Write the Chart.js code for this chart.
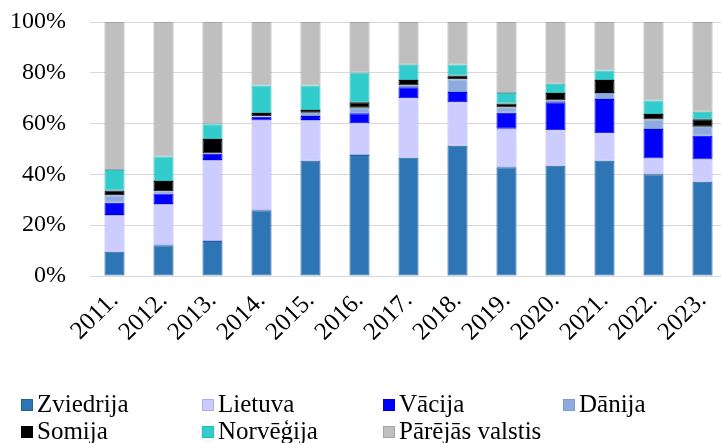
<!DOCTYPE html>
<html>
<head>
<meta charset="utf-8">
<script src="https://cdn.jsdelivr.net/npm/chart.js@4.4.1/dist/chart.umd.min.js"></script>
<style>
  html, body { margin: 0; padding: 0; background: #fff; overflow: hidden; width: 721px; height: 443px; }
  #wrap { position: absolute; left: 0; top: 0; width: 727px; height: 385px; }
  #legend { position: absolute; left: 0; top: 0; width: 721px; height: 443px; pointer-events: none;
    font-family: "Liberation Serif", "Times New Roman", serif; font-size: 25px; color: #000; }
  .item { position: absolute; height: 28px; line-height: 28px; white-space: nowrap; }
  .box { position: absolute; left: 0; top: 9px; width: 10px; height: 10px; border: 1px solid; }
  .txt { position: absolute; left: 16px; top: 0; }
</style>
</head>
<body>
<div id="wrap"><canvas id="chart"></canvas></div>
<div id="legend"></div>
<script>
const years = ["2011.", "2012.", "2013.", "2014.", "2015.", "2016.", "2017.", "2018.", "2019.", "2020.", "2021.", "2022.", "2023."];
const seriesNames = ["Zviedrija", "Lietuva", "Vācija", "Dānija", "Somija", "Norvēģija", "Pārējās valstis"];
const zviedrija = [9.5, 12.1, 13.8, 25.9, 45.4, 47.6, 46.6, 51.3, 42.8, 43.4, 45.4, 40.1, 37.1];
const lietuva = [14.5, 16.2, 31.9, 35.3, 16.0, 12.5, 23.4, 17.1, 15.2, 14.0, 10.8, 6.2, 8.8];
const vacija = [4.8, 4.2, 2.4, 1.5, 1.6, 4.0, 4.3, 4.0, 6.3, 11.0, 13.5, 11.6, 9.3];
const danija = [3.0, 0.9, 0.1, 0.2, 1.3, 2.1, 0.7, 5.1, 2.0, 0.7, 2.3, 3.7, 3.6];
const somija = [1.9, 4.0, 5.7, 1.3, 1.1, 2.2, 2.2, 1.4, 1.6, 2.9, 5.2, 2.2, 2.9];
const norvegija = [8.0, 9.6, 5.8, 10.8, 9.6, 11.7, 6.0, 4.4, 4.1, 3.7, 3.7, 5.3, 3.0];
const parejas = [58.3, 53.0, 40.3, 25.0, 25.0, 19.9, 16.8, 16.7, 28.0, 24.3, 19.1, 30.9, 35.3];
const yTicks = [0, 20, 40, 60, 80, 100];

const fills = ["#2E75B6", "#CCCCFF", "#0000FF", "#8FAADC", "#000000", "#33CCCC", "#BFBFBF"];
const borders = ["#1F6496", "#AAAAF5", "#0000E0", "#7F9CD0", "#000000", "#2BBDBD", "#A5A5A5"];
const values = [zviedrija, lietuva, vacija, danija, somija, norvegija, parejas];

const serif = "'Liberation Serif', 'Times New Roman', serif";

const ctx = document.getElementById("chart");
new Chart(ctx, {
  type: "bar",
  data: {
    labels: years,
    datasets: seriesNames.map((name, i) => ({
      label: name,
      data: values[i],
      backgroundColor: fills[i],
      borderColor: borders[i],
      borderWidth: 1,
      borderSkipped: false,
      categoryPercentage: 1,
      barPercentage: 0.41
    }))
  },
  options: {
    responsive: true,
    maintainAspectRatio: false,
    animation: false,
    layout: { padding: { top: 22, right: 0, left: 0, bottom: 0 } },
    plugins: { legend: { display: false }, tooltip: { enabled: false } },
    scales: {
      x: {
        stacked: true,
        grid: { display: false, drawTicks: false },
        border: { display: false },
        ticks: {
          color: "#000",
          font: { family: serif, size: 25 },
          minRotation: 45,
          maxRotation: 45,
          padding: 10,
          autoSkip: false
        },
        afterFit: (s) => { s.height = 109; s.paddingLeft = 0; s.paddingRight = 0; }
      },
      y: {
        stacked: true,
        min: 0,
        max: 100,
        afterBuildTicks: (s) => { s.ticks = yTicks.map(v => ({ value: v })); },
        grid: { color: "#D9D9D9", lineWidth: 1, drawTicks: false },
        border: { display: false },
        ticks: {
          color: "#000",
          font: { family: serif, size: 24 },
          padding: 24,
          callback: (v) => v + "%"
        },
        afterFit: (s) => { s.width = 90; s.paddingTop = 0; s.paddingBottom = 0; }
      }
    }
  }
});

// legend laid out in a grid like the original
const legend = document.getElementById("legend");
const cols = [21, 202, 383, 563];
const rows = [390, 417];
seriesNames.forEach((name, i) => {
  const el = document.createElement("div");
  el.className = "item";
  el.style.left = cols[i % 4] + "px";
  el.style.top = rows[Math.floor(i / 4)] + "px";
  el.innerHTML = '<span class="box" style="background:' + fills[i] + ';border-color:' + borders[i] + '"></span><span class="txt">' + name + '</span>';
  legend.appendChild(el);
});
</script>
</body>
</html>
